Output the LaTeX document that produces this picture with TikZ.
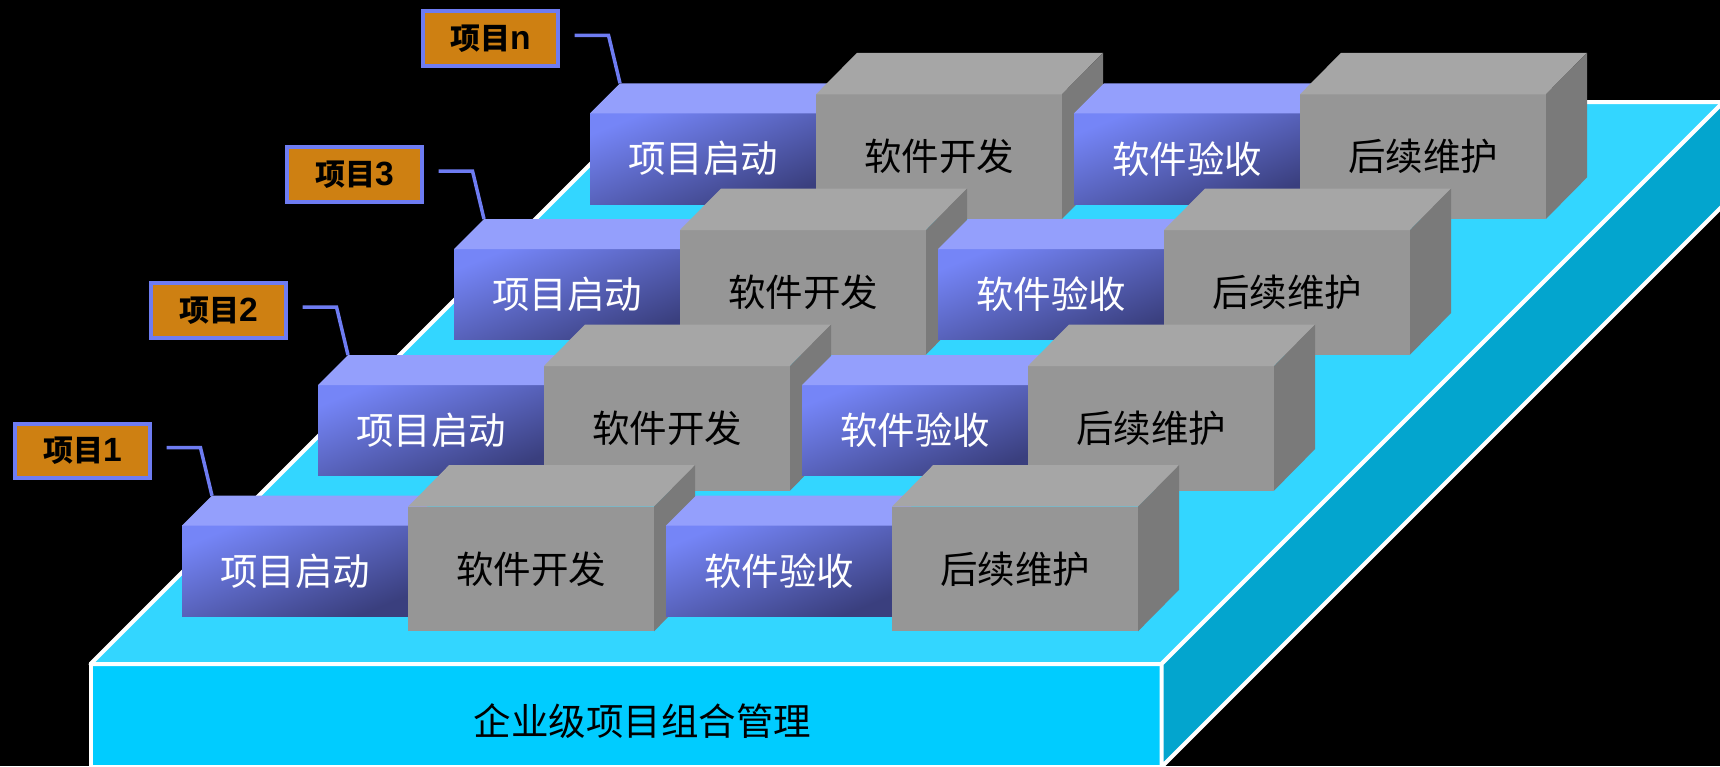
\documentclass[tikz,border=0pt]{standalone}
\usepackage{fontspec}
\setmainfont{Noto Sans CJK SC}
\newfontfamily\labelfont[Scale=1.12]{Liberation Sans}
\definecolor{platetop}{HTML}{33D6FF}
\definecolor{platefront}{HTML}{00CCFF}
\definecolor{plateside}{HTML}{03A5CE}
\definecolor{purplelight}{HTML}{7585F7}
\definecolor{purpledark}{HTML}{3A3F7E}
\definecolor{purpletop}{HTML}{949FFC}
\definecolor{greyfront}{HTML}{969696}
\definecolor{greytop}{HTML}{A6A6A6}
\definecolor{greyside}{HTML}{7A7A7A}
\definecolor{tagfill}{HTML}{CE8012}
\definecolor{tagline}{HTML}{6E7CF2}
\tikzset{
  platedge/.style={draw=white,line width=4pt,line join=round},
  phasetext/.style={font=\fontsize{37.5}{40}\selectfont,inner sep=0pt,outer sep=0pt,anchor=north west},
  phasebox/.style={phasetext,minimum width=226pt,minimum height=90.7pt,text=white,
    top color=purplelight,bottom color=purpledark,shading angle=22},
  devbox/.style={phasetext,minimum width=246pt,minimum height=124.6pt,text=black,fill=greyfront},
  tagbox/.style={draw=tagline,line width=4pt,fill=tagfill,inner sep=0pt,outer sep=0pt,
    minimum width=135pt,minimum height=54.5pt,font=\fontsize{30}{32}\selectfont\bfseries},
  tagleader/.style={draw=tagline,line width=3.5pt,line join=miter}
}
\begin{document}
\begin{tikzpicture}[x=1pt,y=-1pt]
\useasboundingbox (0,0) rectangle (1720,766);
\fill [black] (0,0) rectangle (1720,766);
% platform
\node [platedge,fill=platefront,inner sep=0pt,outer sep=0pt,minimum width=1071pt,minimum height=103pt,anchor=north west] (plate) at (90.5,664) {};
\draw [platedge,fill=platetop] (plate.north west) -- ++(562,-562) -- ++(1071,0) -- (plate.north east) -- cycle;
\draw [platedge,fill=plateside] (plate.north east) -- ++(562,-562) -- ++(0,103) -- (plate.south east) -- cycle;
\node [font=\fontsize{37.5}{40}\selectfont] (platetext) at (642.5,721) {企业级项目组合管理};

% rows, back to front
\foreach \r/\x/\y in {n/590/113.3,3/454/249,2/318/385,1/182/525.7} {
  \foreach \c/\d/\a/\b in {a/0/项目启动/软件开发,b/484/软件验收/后续维护} {
    \node [phasebox] (phase\r\c) at (\x+\d,\y) {\a};
    \fill [purpletop] (phase\r\c.north west) -- ++(30,-30) -- ++(226,0) -- (phase\r\c.north east) -- cycle;
    \node [devbox] (dev\r\c) at (\x+\d+226,\y-19) {\b};
    \fill [greytop] (dev\r\c.north west) -- ++(41,-41.5) -- ++(246,0) -- (dev\r\c.north east) -- cycle;
    \fill [greyside] (dev\r\c.north east) -- ++(41,-41.5) -- ++(0,124.6) -- (dev\r\c.south east) -- cycle;
  }
  \node [tagbox] (tag\r) at (\x-99.5,\y-74.7) {项目{\labelfont\r}};
  \coordinate (lead\r) at (\x-15.5,\y-78);
  \coordinate (foot\r) at (\x+30,\y-30);
  \draw [tagleader] (lead\r) -- ++(34,0) -- (foot\r);
}
\end{tikzpicture}
\end{document}
